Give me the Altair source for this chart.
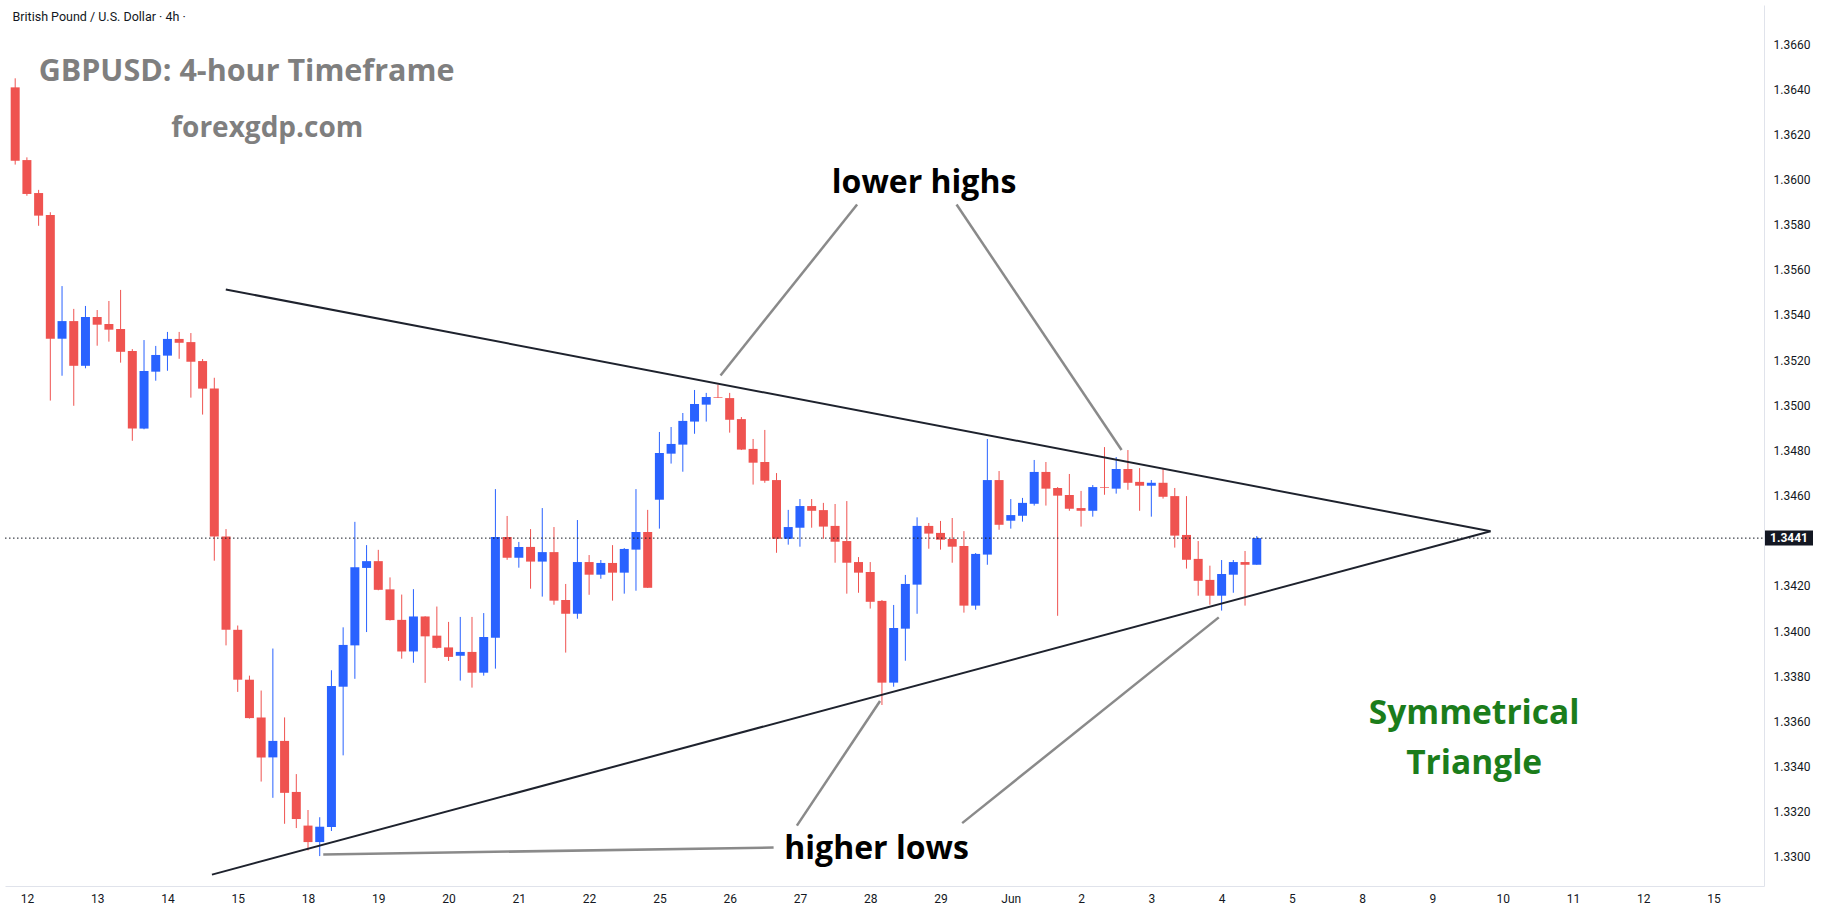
import altair as alt
import pandas as pd

# ---------------- data ----------------
day_labels = ["12", "13", "14", "15", "18", "19", "20", "21", "22", "25", "26", "27", "28",
              "29", "Jun", "2", "3", "4", "5", "8", "9", "10", "11", "12", "15"]
bars_per_day = 6
first_bar = -1  # last 4h bar of the previous session

opens = [1.36408, 1.36086, 1.35940, 1.35843, 1.35295, 1.35373, 1.35175, 1.35391, 1.35360, 1.35338,
         1.35241, 1.34897, 1.35149, 1.35220, 1.35294, 1.35280, 1.35196, 1.35074, 1.34419, 1.34006,
         1.33785, 1.33618, 1.33441, 1.33514, 1.33288, 1.33139, 1.33066, 1.33133, 1.33754, 1.33937,
         1.34280, 1.34310, 1.34185, 1.34050, 1.33910, 1.34065, 1.33980, 1.33928, 1.33891, 1.33908,
         1.33816, 1.33971, 1.34417, 1.34325, 1.34373, 1.34308, 1.34350, 1.34138, 1.34077, 1.34306,
         1.34250, 1.34302, 1.34259, 1.34361, 1.34439, 1.34582, 1.34786, 1.34826, 1.34928, 1.35003,
         1.35037, 1.35032, 1.34939, 1.34807, 1.34749, 1.34669, 1.34409, 1.34458, 1.34554, 1.34536,
         1.34466, 1.34399, 1.34306, 1.34262, 1.34134, 1.33772, 1.34011, 1.34206, 1.34466, 1.34435,
         1.34408, 1.34377, 1.34113, 1.34339, 1.34669, 1.34489, 1.34511, 1.34564, 1.34705, 1.34634,
         1.34603, 1.34545, 1.34533, 1.34638, 1.34631, 1.34718, 1.34661, 1.34644, 1.34657, 1.34598,
         1.34426, 1.34320, 1.34227, 1.34157, 1.34250, 1.34306, 1.34294]
highs = [1.36448, 1.36098, 1.35954, 1.35855, 1.35528, 1.35427, 1.35440, 1.35422, 1.35462, 1.35511,
         1.35249, 1.35289, 1.35263, 1.35325, 1.35325, 1.35320, 1.35205, 1.35122, 1.34452, 1.34025,
         1.33803, 1.33737, 1.33923, 1.33618, 1.33367, 1.33208, 1.33176, 1.33827, 1.34017, 1.34484,
         1.34381, 1.34360, 1.34238, 1.34162, 1.34186, 1.34066, 1.34109, 1.34041, 1.34063, 1.34063,
         1.34080, 1.34629, 1.34510, 1.34395, 1.34452, 1.34545, 1.34461, 1.34209, 1.34492, 1.34337,
         1.34315, 1.34381, 1.34368, 1.34629, 1.34537, 1.34882, 1.34904, 1.34966, 1.35068, 1.35055,
         1.35091, 1.35055, 1.34948, 1.34851, 1.34891, 1.34700, 1.34537, 1.34585, 1.34585, 1.34568,
         1.34563, 1.34576, 1.34328, 1.34306, 1.34138, 1.34116, 1.34249, 1.34504, 1.34479, 1.34488,
         1.34501, 1.34443, 1.34346, 1.34851, 1.34709, 1.34585, 1.34590, 1.34758, 1.34749, 1.34638,
         1.34696, 1.34621, 1.34647, 1.34815, 1.34771, 1.34802, 1.34722, 1.34669, 1.34719, 1.34634,
         1.34598, 1.34399, 1.34290, 1.34315, 1.34315, 1.34355, 1.34421]
lows = [1.36066, 1.35928, 1.35795, 1.35021, 1.35131, 1.34998, 1.35164, 1.35264, 1.35282, 1.35189,
        1.34843, 1.34894, 1.35109, 1.35153, 1.35206, 1.35034, 1.34959, 1.34312, 1.33937, 1.33731,
        1.33613, 1.33334, 1.33262, 1.33147, 1.33128, 1.33029, 1.33004, 1.33115, 1.33450, 1.33789,
        1.33996, 1.34181, 1.34047, 1.33878, 1.33860, 1.33771, 1.33923, 1.33868, 1.33781, 1.33750,
        1.33803, 1.33834, 1.34316, 1.34281, 1.34188, 1.34153, 1.34117, 1.33905, 1.34055, 1.34161,
        1.34232, 1.34135, 1.34166, 1.34179, 1.34191, 1.34454, 1.34742, 1.34706, 1.34874, 1.34928,
        1.35033, 1.34879, 1.34802, 1.34649, 1.34657, 1.34347, 1.34383, 1.34374, 1.34458, 1.34409,
        1.34303, 1.34166, 1.34170, 1.34100, 1.33673, 1.33754, 1.33869, 1.34077, 1.34365, 1.34361,
        1.34303, 1.34082, 1.34095, 1.34294, 1.34449, 1.34454, 1.34485, 1.34556, 1.34556, 1.34068,
        1.34533, 1.34463, 1.34507, 1.34604, 1.34609, 1.34626, 1.34533, 1.34507, 1.34587, 1.34370,
        1.34277, 1.34157, 1.34117, 1.34091, 1.34170, 1.34113, 1.34294]
closes = [1.36083, 1.35936, 1.35840, 1.35295, 1.35373, 1.35175, 1.35391, 1.35357, 1.35335, 1.35237,
          1.34897, 1.35152, 1.35223, 1.35294, 1.35277, 1.35193, 1.35074, 1.34419, 1.34006, 1.33785,
          1.33615, 1.33441, 1.33514, 1.33284, 1.33168, 1.33066, 1.33134, 1.33757, 1.33939, 1.34283,
          1.34310, 1.34183, 1.34049, 1.33910, 1.34065, 1.33977, 1.33926, 1.33886, 1.33908, 1.33816,
          1.33974, 1.34417, 1.34325, 1.34373, 1.34308, 1.34350, 1.34135, 1.34077, 1.34306, 1.34250,
          1.34302, 1.34259, 1.34364, 1.34439, 1.34192, 1.34789, 1.34829, 1.34931, 1.35006, 1.35037,
          1.35034, 1.34936, 1.34804, 1.34746, 1.34666, 1.34409, 1.34461, 1.34554, 1.34533, 1.34463,
          1.34396, 1.34303, 1.34259, 1.34130, 1.33772, 1.34014, 1.34209, 1.34466, 1.34432, 1.34405,
          1.34374, 1.34113, 1.34342, 1.34669, 1.34471, 1.34514, 1.34568, 1.34705, 1.34631, 1.34600,
          1.34542, 1.34533, 1.34638, 1.34635, 1.34718, 1.34657, 1.34644, 1.34657, 1.34595, 1.34423,
          1.34316, 1.34223, 1.34157, 1.34253, 1.34306, 1.34294, 1.34412]

price_ticks = [1.3300, 1.3320, 1.3340, 1.3360, 1.3380, 1.3400, 1.3420, 1.3460,
               1.3480, 1.3500, 1.3520, 1.3540, 1.3560, 1.3580, 1.3600, 1.3620, 1.3640, 1.3660]

# trend lines (bar index, price)
upper_line = {"x": 16.98, "y": 1.35513, "x2": 124.96, "y2": 1.34442}
lower_line = {"x": 15.80, "y": 1.32922, "x2": 124.96, "y2": 1.34442}

# pointer lines of the annotations
pointer_lines = [
    {"x": 70.88, "y": 1.35889, "x2": 59.22, "y2": 1.35132},
    {"x": 79.37, "y": 1.35889, "x2": 93.46, "y2": 1.34802},
    {"x": 65.74, "y": 1.33139, "x2": 72.84, "y2": 1.33691},
    {"x": 79.85, "y": 1.33150, "x2": 101.76, "y2": 1.34061},
    {"x": 25.30, "y": 1.33011, "x2": 63.75, "y2": 1.33042},
]

labels_black = [
    {"text": "lower highs", "x": 76.60, "y": 1.35940},
    {"text": "higher lows", "x": 72.54, "y": 1.32991},
]
labels_green = [
    {"text": "Symmetrical", "x": 123.56, "y": 1.33588},
    {"text": "Triangle", "x": 123.56, "y": 1.33367},
]
title_text = {"text": "GBPUSD: 4-hour Timeframe", "x": 18.75, "y": 1.36437}
site_text = {"text": "forexgdp.com", "x": 20.52, "y": 1.36188}
symbol_text = {"text": "British Pound / U.S. Dollar \u00b7 4h \u00b7", "x": -1.23, "y": 1.36700}

# ---------------- layout ----------------
W, H = 1759, 881
x_domain = [-1.443, 147.88]
y_domain = [1.328715, 1.367727]
UP, DOWN = "#2962ff", "#ef5350"
FONT = "Open Sans"

df = pd.DataFrame({
    "bar": list(range(first_bar, first_bar + len(opens))),
    "open": opens, "high": highs, "low": lows, "close": closes,
})
df["dir"] = ["up" if c >= o else "down" for o, c in zip(df["open"], df["close"])]

labels_js = "[" + ",".join("'%s'" % d for d in day_labels) + "]"
x_scale = alt.Scale(domain=x_domain, nice=False, zero=False)
y_scale = alt.Scale(domain=y_domain, nice=False, zero=False)

x_enc = alt.X("bar:Q", scale=x_scale, axis=alt.Axis(
    values=[i * bars_per_day for i in range(len(day_labels))],
    labelExpr=labels_js + "[round(datum.value/%d)]" % bars_per_day,
    grid=False, ticks=False, domainColor="#e0e3eb", domainWidth=1,
    labelColor="#131722", labelFontSize=12, labelFont="Roboto",
    labelPadding=7, labelOverlap=False, labelFlush=False, title=None))
y_axis = alt.Axis(orient="right", values=price_ticks, format=".4f", grid=False, ticks=False,
                  domainColor="#e0e3eb", labelColor="#131722", labelFontSize=12,
                  labelFont="Roboto", labelPadding=9, labelOverlap=False, labelFlush=False,
                  title=None)
color_enc = alt.Color("dir:N", scale=alt.Scale(domain=["up", "down"], range=[UP, DOWN]), legend=None)

base = alt.Chart(df)
wicks = base.mark_rule(strokeWidth=1).encode(
    x=x_enc, y=alt.Y("low:Q", scale=y_scale, axis=y_axis), y2="high:Q", color=color_enc)
bodies = base.mark_bar(size=9).encode(
    x="bar:Q", y="open:Q", y2="close:Q", color=color_enc)

last = df.tail(1)
last_line = alt.Chart(last).mark_rule(strokeDash=[1.5, 2.5], color="#131722", strokeWidth=1).encode(
    y="close:Q", x=alt.value(0), x2=alt.value(W))
price_box = alt.Chart(last).mark_rule(strokeWidth=15, color="#131722", strokeCap="butt").encode(
    y="close:Q", x=alt.value(W + 1), x2=alt.value(W + 49))
price_txt = alt.Chart(last).mark_text(color="white", fontSize=12, font="Roboto", fontWeight="bold",
                                      align="center", baseline="middle").encode(
    y="close:Q", x=alt.value(W + 25), text=alt.Text("close:Q", format=".4f"))

tri = alt.Chart(pd.DataFrame([upper_line, lower_line])).mark_rule(
    color="#1e222d", strokeWidth=2).encode(x="x:Q", y="y:Q", x2="x2:Q", y2="y2:Q")
pointers = alt.Chart(pd.DataFrame(pointer_lines)).mark_rule(
    color="#8a8a8a", strokeWidth=2.5).encode(x="x:Q", y="y:Q", x2="x2:Q", y2="y2:Q")

t_black = alt.Chart(pd.DataFrame(labels_black)).mark_text(
    font=FONT, fontSize=32, fontWeight="bold", color="#000000", align="center",
    baseline="alphabetic").encode(x="x:Q", y="y:Q", text="text:N")
t_green = alt.Chart(pd.DataFrame(labels_green)).mark_text(
    font=FONT, fontSize=33.5, fontWeight="bold", color="#1b7d1b", align="center",
    baseline="alphabetic").encode(x="x:Q", y="y:Q", text="text:N")
t_title = alt.Chart(pd.DataFrame([title_text])).mark_text(
    font=FONT, fontSize=30.5, fontWeight="bold", color="#7f7f7f", align="center",
    baseline="alphabetic").encode(x="x:Q", y="y:Q", text="text:N")
t_site = alt.Chart(pd.DataFrame([site_text])).mark_text(
    font=FONT, fontSize=28, fontWeight="bold", color="#7f7f7f", align="center",
    baseline="alphabetic").encode(x="x:Q", y="y:Q", text="text:N")
t_symbol = alt.Chart(pd.DataFrame([symbol_text])).mark_text(
    font="Roboto", fontSize=12.5, color="#131722", align="left",
    baseline="alphabetic").encode(x="x:Q", y="y:Q", text="text:N")

chart = alt.layer(
    wicks, bodies, last_line, tri, pointers, t_black, t_green, t_title, t_site, t_symbol,
    price_box, price_txt
).properties(
    width=W, height=H, autosize=alt.AutoSizeParams(type="none"),
    padding={"left": 5, "top": 5, "right": 59, "bottom": 34}, background="white"
).configure_view(stroke=None)

chart.save("out.html", embed_options={"renderer": "svg", "actions": False})
